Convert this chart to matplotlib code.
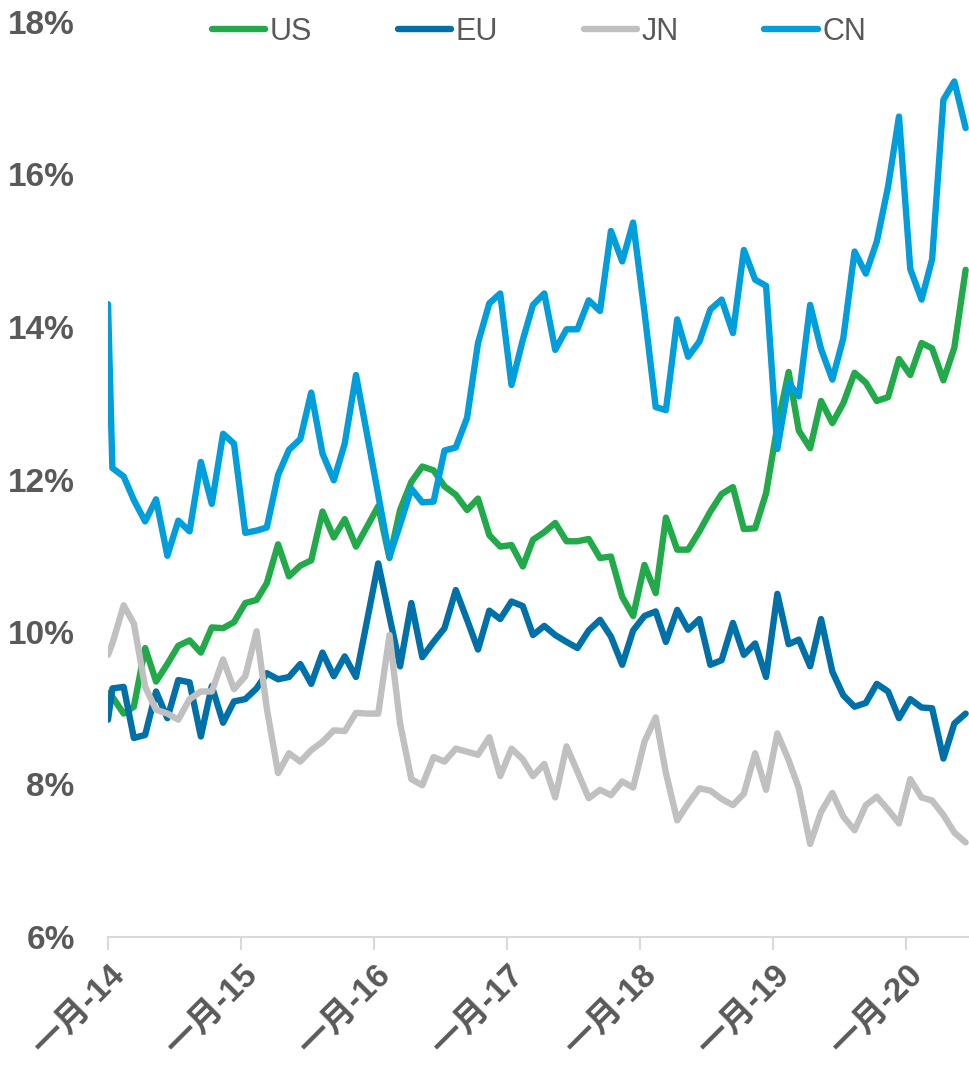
import matplotlib
matplotlib.use("Agg")
import matplotlib.pyplot as plt
from matplotlib.transforms import ScaledTranslation
import pandas as pd

# 系列数据（%）：第一个点为 2014-01-01，其后为每月中旬
US = [9.20,
      9.15, 8.93, 9.02, 9.79, 9.35, 9.58, 9.82, 9.89, 9.73, 10.06, 10.05, 10.13,
      10.38, 10.42, 10.64, 11.15, 10.73, 10.87, 10.94, 11.58, 11.24, 11.48, 11.12, 11.38,
      11.65, 10.97, 11.60, 11.97, 12.17, 12.12, 11.91, 11.80, 11.60, 11.75, 11.27, 11.12,
      11.14, 10.86, 11.21, 11.31, 11.43, 11.19, 11.19, 11.22, 10.97, 10.99, 10.46, 10.21,
      10.88, 10.51, 11.50, 11.08, 11.08, 11.32, 11.58, 11.81, 11.90, 11.35, 11.36, 11.82,
      12.70, 13.41, 12.64, 12.41, 13.03, 12.74, 13.00, 13.40, 13.27, 13.03, 13.08, 13.58,
      13.37, 13.79, 13.72, 13.30, 13.73, 14.75]
EU = [8.85,
      9.26, 9.28, 8.61, 8.65, 9.22, 8.87, 9.37, 9.34, 8.63, 9.29, 8.81, 9.09,
      9.12, 9.26, 9.46, 9.38, 9.41, 9.58, 9.32, 9.73, 9.42, 9.68, 9.41, 10.14,
      10.90, 10.20, 9.55, 10.38, 9.67, 9.87, 10.05, 10.55, 10.16, 9.77, 10.28, 10.17,
      10.40, 10.34, 9.96, 10.08, 9.96, 9.87, 9.79, 10.02, 10.16, 9.94, 9.57, 10.02,
      10.21, 10.27, 9.87, 10.29, 10.03, 10.17, 9.57, 9.63, 10.12, 9.70, 9.85, 9.41,
      10.50, 9.84, 9.90, 9.55, 10.17, 9.48, 9.17, 9.02, 9.07, 9.32, 9.22, 8.87,
      9.12, 9.01, 9.00, 8.34, 8.80, 8.93]
JN = [9.70,
      9.85, 10.35, 10.11, 9.28, 8.98, 8.93, 8.85, 9.12, 9.22, 9.22, 9.64, 9.25,
      9.42, 10.01, 9.00, 8.15, 8.41, 8.30, 8.45, 8.56, 8.71, 8.70, 8.94, 8.93,
      8.93, 9.96, 8.80, 8.07, 7.99, 8.36, 8.30, 8.47, 8.43, 8.39, 8.62, 8.11,
      8.47, 8.33, 8.11, 8.27, 7.83, 8.50, 8.17, 7.82, 7.93, 7.86, 8.04, 7.96,
      8.56, 8.88, 8.15, 7.53, 7.75, 7.95, 7.92, 7.81, 7.73, 7.88, 8.41, 7.93,
      8.67, 8.32, 7.95, 7.22, 7.64, 7.89, 7.58, 7.40, 7.73, 7.84, 7.67, 7.49,
      8.07, 7.83, 7.79, 7.60, 7.37, 7.24]
CN = [14.30,
      12.15, 12.04, 11.73, 11.45, 11.74, 11.00, 11.46, 11.32, 12.23, 11.68, 12.60, 12.47,
      11.30, 11.33, 11.37, 12.06, 12.39, 12.53, 13.14, 12.34, 11.99, 12.47, 13.37, 12.60,
      11.80, 10.99, 11.41, 11.88, 11.70, 11.71, 12.38, 12.42, 12.81, 13.79, 14.31, 14.44,
      13.24, 13.83, 14.29, 14.44, 13.70, 13.97, 13.97, 14.35, 14.21, 15.26, 14.86, 15.37,
      14.20, 12.95, 12.91, 14.10, 13.61, 13.81, 14.23, 14.36, 13.92, 15.01, 14.62, 14.54,
      12.40, 13.27, 13.09, 14.29, 13.71, 13.31, 13.85, 14.99, 14.70, 15.12, 15.84, 16.76,
      14.76, 14.36, 14.89, 16.98, 17.22, 16.61]

dates = [pd.Timestamp("2014-01-01")] + list(
    pd.date_range("2014-01-01", periods=78, freq="MS") + pd.Timedelta(days=12))

series = [("US", US, "#22AA4A"), ("EU", EU, "#0071A8"),
          ("JN", JN, "#C0C0C0"), ("CN", CN, "#009EDB")]

year_ticks = pd.date_range("2014-01-01", "2020-01-01", freq="YS")
year_labels = ["一月-14", "一月-15", "一月-16", "一月-17", "一月-18", "一月-19", "一月-20"]
y_ticks = [6, 8, 10, 12, 14, 16, 18]

TXT = "#595959"
plt.rcParams["font.family"] = ["Liberation Sans", "Noto Sans CJK SC", "DejaVu Sans"]

fig = plt.figure(figsize=(9.7, 10.65), dpi=100)
ax = fig.add_axes([108 / 970, 1 - 937 / 1065, 862 / 970, 915 / 1065])

for name, vals, color in series:
    ax.plot(dates, vals, color=color, lw=4.6, label=name,
            solid_joinstyle="round", solid_capstyle="round")

ax.set_ylim(6, 18)
ax.set_xlim(pd.Timestamp("2014-01-01"), pd.Timestamp("2020-06-25"))

ax.set_yticks(y_ticks)
ax.set_yticklabels([f"{v}%" for v in y_ticks], fontsize=24, fontweight="bold", color=TXT)
ax.tick_params(axis="y", length=0, pad=24)

ax.set_xticks(year_ticks)
ax.set_xticklabels(year_labels, fontsize=24, fontweight="bold", color=TXT,
                   rotation=45, ha="right", va="top", rotation_mode="anchor")
ax.tick_params(axis="x", length=9, width=1.5, color="#D9D9D9", pad=7)
offset = ScaledTranslation(2 / 100, 0, fig.dpi_scale_trans)
for lab in ax.get_xticklabels():
    lab.set_transform(lab.get_transform() + offset)

for side in ["left", "right", "top"]:
    ax.spines[side].set_visible(False)
ax.spines["bottom"].set_color("#D9D9D9")
ax.spines["bottom"].set_linewidth(1.5)

leg = ax.legend(loc="center", bbox_to_anchor=(0.5, 0.989), ncol=4, frameon=False,
                fontsize=22, handlelength=1.75, handletextpad=0.15,
                columnspacing=2.8, borderaxespad=0)
for t in leg.get_texts():
    t.set_color(TXT)

fig.savefig("out.png", dpi=100)
